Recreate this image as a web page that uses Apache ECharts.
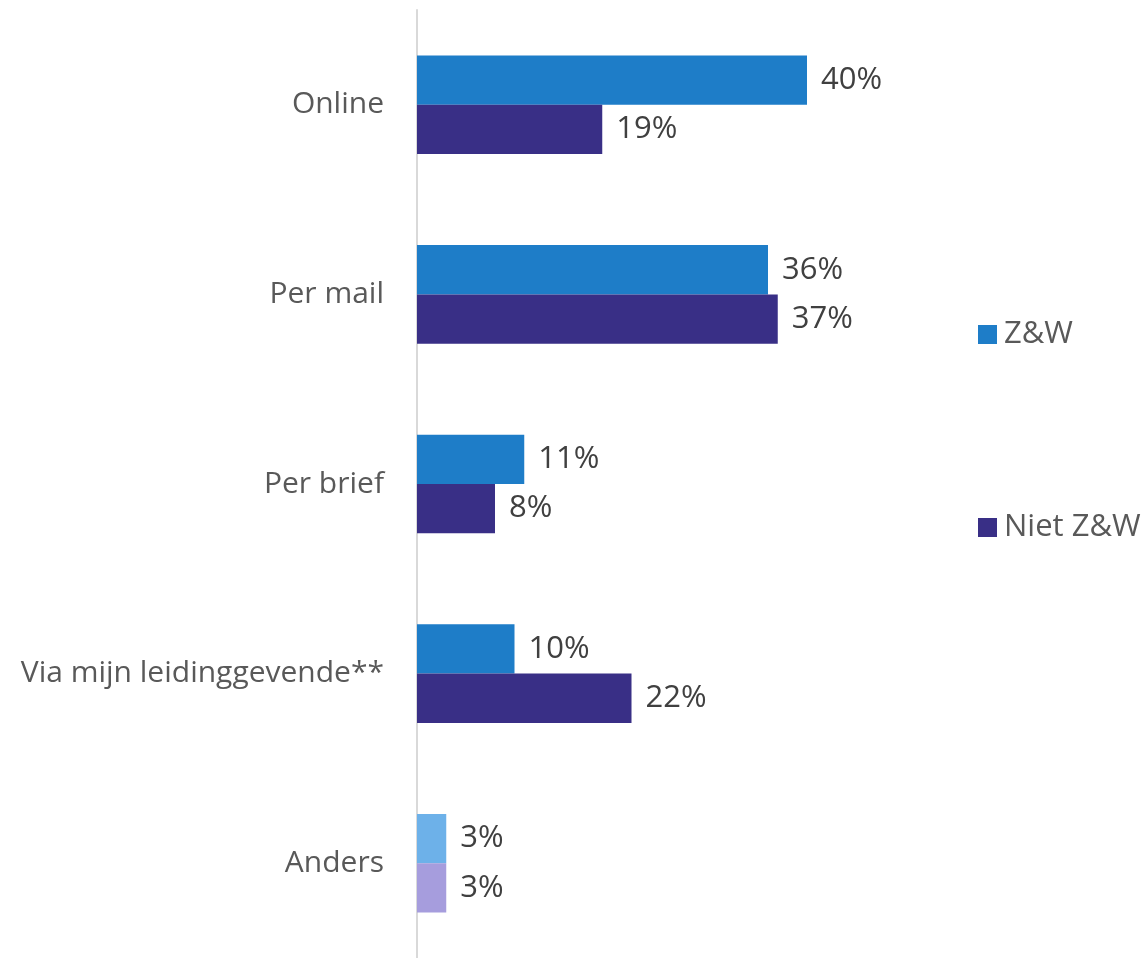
<!DOCTYPE html>
<html>
<head>
<meta charset="utf-8">
<script src="https://cdn.jsdelivr.net/npm/echarts@6/dist/echarts.min.js"></script>
<style>
  html, body { margin: 0; padding: 0; background: #fff; }
  #chart { width: 1147px; height: 958px; }
</style>
</head>
<body>
<div id="chart"></div>
<script>
const categories = ['Online', 'Per mail', 'Per brief', 'Via mijn leidinggevende**', 'Anders'];
const seriesNames = ['Z&W', 'Niet Z&W'];
const zwValues = [40, 36, 11, 10, 3];
const nietZwValues = [19, 37, 8, 22, 3];

const colors = {
  blue: '#1E7DC8',
  purple: '#392F86',
  blueLight: '#6DB1E9',
  purpleLight: '#A69DDD',
  text: '#595959',
  valueText: '#404040',
  axis: '#d9d9d9'
};

const fontFamily = '"Open Sans", "Noto Sans", sans-serif';

// last category ("Anders") is drawn in lighter tints
function withLastTint(values, tint) {
  return values.map((v, i) => i === values.length - 1
    ? { value: v, itemStyle: { color: tint } }
    : v);
}

const labelStyle = {
  show: true,
  position: 'right',
  distance: 14,
  formatter: '{c}%',
  color: colors.valueText,
  fontSize: 31,
  fontFamily
};

const chart = echarts.init(document.getElementById('chart'));
chart.setOption({
  animation: false,
  legend: {
    orient: 'vertical',
    left: 973,
    top: 314,
    itemGap: 162,
    itemWidth: 19,
    itemHeight: 19,
    icon: 'rect',
    textStyle: { color: colors.text, fontSize: 31, fontFamily, padding: [0, 0, 0, 2] },
    data: seriesNames
  },
  grid: { top: 10, bottom: 0, left: 417, right: 145 },
  xAxis: {
    type: 'value',
    min: 0,
    max: 60,
    show: false
  },
  yAxis: {
    type: 'category',
    inverse: true,
    data: categories,
    axisLine: { show: true, lineStyle: { color: colors.axis, width: 2 } },
    axisTick: { show: false },
    axisLabel: { margin: 33, color: colors.text, fontSize: 30, fontFamily }
  },
  series: [
    {
      name: seriesNames[0],
      type: 'bar',
      data: withLastTint(zwValues, colors.blueLight),
      itemStyle: { color: colors.blue },
      barGap: '0%',
      barCategoryGap: '48%',
      label: labelStyle
    },
    {
      name: seriesNames[1],
      type: 'bar',
      data: withLastTint(nietZwValues, colors.purpleLight),
      itemStyle: { color: colors.purple },
      label: labelStyle
    }
  ]
});
</script>
</body>
</html>
